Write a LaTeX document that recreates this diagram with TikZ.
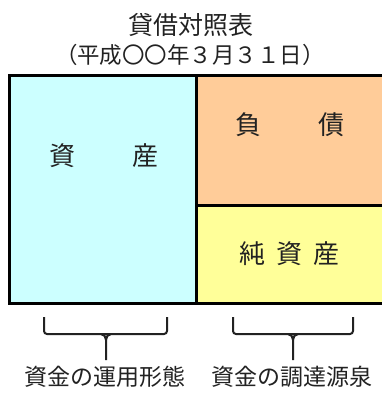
\documentclass[tikz,border=0pt]{standalone}
\usepackage{fontspec}
\newfontfamily\jp{Noto Sans CJK JP}
\definecolor{assetc}{HTML}{CCFFFF}
\definecolor{liabc}{HTML}{FFCC99}
\definecolor{equityc}{HTML}{FFFF99}
\definecolor{txt}{HTML}{222222}
\begin{document}
\begin{tikzpicture}[x=1pt,y=-1pt,
  lbl/.style={font=\jp\fontsize{23}{25}\selectfont, text=txt, inner sep=0pt},
  inlbl/.style={font=\jp\fontsize{26}{28}\selectfont, text=txt, inner sep=0pt},
  ttl/.style={font=\jp\fontsize{25}{27}\selectfont, text=txt, inner sep=0pt},
  sub/.style={font=\jp\fontsize{22.5}{25}\selectfont, text=txt, inner sep=0pt},
  frame/.style={line width=3pt, draw=black},
  bracestyle/.style={line width=2pt, draw=txt, line join=round}]
\useasboundingbox (0,0) rectangle (381,394);
% fills
\fill[assetc] (9.5,75.5) rectangle (196,303.5);
\fill[liabc] (196,75.5) rectangle (385,205.5);
\fill[equityc] (196,205.5) rectangle (385,303.5);
% frame
\draw[frame] (385,75.5) -- (9.5,75.5) -- (9.5,303.5) -- (385,303.5);
\draw[frame] (196,75.5) -- (196,303.5);
\draw[frame] (196,205.5) -- (385,205.5);
% texts
\node[ttl] (title) at (191,25) {貸借対照表};
\node[sub] (date) at (190,55) {（平成〇〇年３月３１日）};
\node[inlbl] (asset) at (104,155.5) {資\hspace{56.5pt}産};
\node[inlbl] (liab) at (290,125) {負\hspace{58pt}債};
\node[inlbl] (equity) at (289.5,253.5) {純\hspace{11.5pt}資\hspace{11.5pt}産};
\node[lbl] (use) at (105,377) {資金の運用形態};
\node[lbl] (src) at (292,377) {資金の調達源泉};
% braces
\draw[bracestyle, rounded corners=3pt] (44,317) -- (44,334) -- (167,334) -- (167,317);
\draw[bracestyle] (101,334) to[out=0,in=90] (106,340) -- (106,360);
\draw[bracestyle] (111,334) to[out=180,in=90] (106,340);
\draw[bracestyle, rounded corners=3pt] (233,317) -- (233,334) -- (353,334) -- (353,317);
\draw[bracestyle] (288,334) to[out=0,in=90] (293,340) -- (293,360);
\draw[bracestyle] (298,334) to[out=180,in=90] (293,340);
\end{tikzpicture}
\end{document}
